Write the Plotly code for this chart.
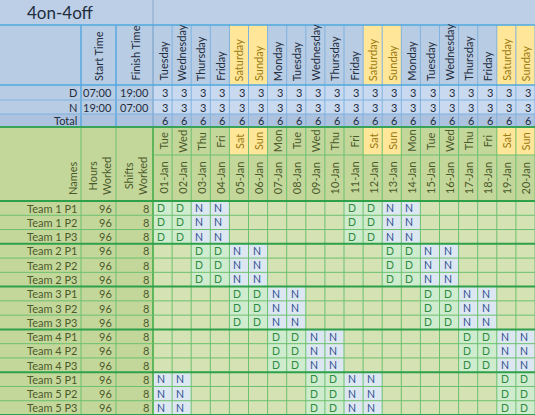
import plotly.graph_objects as go

title = "4on-4off"
days_full = ["Tuesday","Wednesday","Thursday","Friday","Saturday","Sunday","Monday","Tuesday","Wednesday","Thursday",
             "Friday","Saturday","Sunday","Monday","Tuesday","Wednesday","Thursday","Friday","Saturday","Sunday"]
days_short = ["Tue","Wed","Thu","Fri","Sat","Sun","Mon","Tue","Wed","Thu","Fri","Sat","Sun","Mon","Tue","Wed","Thu","Fri","Sat","Sun"]
dates = ["01-Jan","02-Jan","03-Jan","04-Jan","05-Jan","06-Jan","07-Jan","08-Jan","09-Jan","10-Jan",
         "11-Jan","12-Jan","13-Jan","14-Jan","15-Jan","16-Jan","17-Jan","18-Jan","19-Jan","20-Jan"]
shift_labels = ["D", "N"]
start_times = ["07:00", "19:00"]
finish_times = ["19:00", "07:00"]
d_counts = [3]*20
n_counts = [3]*20
totals = [6]*20
names = ["Team 1 P1","Team 1 P2","Team 1 P3","Team 2 P1","Team 2 P2","Team 2 P3","Team 3 P1","Team 3 P2","Team 3 P3",
         "Team 4 P1","Team 4 P2","Team 4 P3","Team 5 P1","Team 5 P2","Team 5 P3"]
hours = [96]*15
shifts = [8]*15
team1 = ["D","D","N","N","","","","","","","D","D","N","N","","","","","",""]
team2 = ["","","D","D","N","N","","","","","","","D","D","N","N","","","",""]
team3 = ["","","","","D","D","N","N","","","","","","","D","D","N","N","",""]
team4 = ["","","","","","","D","D","N","N","","","","","","","D","D","N","N"]
team5 = ["N","N","","","","","","","D","D","N","N","","","","","","","D","D"]
schedule = [team1]*3 + [team2]*3 + [team3]*3 + [team4]*3 + [team5]*3

FONT = "Lato"
X0, CW = 153.0, (535-153)/20
RY0, RH = 201.0, (415-201)/15
shapes, ann = [], []

def rect(x0, y0, x1, y1, fill, lc=None, lw=0):
    shapes.append(dict(type="rect", xref="x", yref="y", x0=x0, y0=y0, x1=x1, y1=y1, fillcolor=fill,
                       line=dict(color=lc or fill, width=lw), layer="below"))

def line(x0, y0, x1, y1, c, w=1):
    shapes.append(dict(type="line", xref="x", yref="y", x0=x0, y0=y0, x1=x1, y1=y1, line=dict(color=c, width=w)))

def txt(x, y, t, xa="center", ya="middle", size=11, color="#1f2d3d", angle=0):
    ann.append(dict(x=x, y=y, xref="x", yref="y", text=t, showarrow=False, xanchor=xa, yanchor=ya,
                    textangle=angle, font=dict(family=FONT, size=size, color=color)))

BLUE, BLUE_L, BLUE_T, YEL = "#b8cce4", "#c9daf0", "#adc2de", "#ffe699"
GREEN_D, GREEN_L = "#c4d79b", "#d4e2b4"
rect(0, 0, 535, 25, "#bccfe6")
rect(0, 25, 535, 85, BLUE)
rect(0, 85, 535, 114, BLUE)
rect(X0, 85, 535, 114, BLUE_L)
rect(0, 114, 535, 127, BLUE_T)
rect(0, 127, 535, 415, GREEN_D)
rect(X0, RY0, 535, 415, GREEN_L)
for i in range(20):
    if days_short[i] in ("Sat", "Sun"):
        rect(X0+i*CW, 25, X0+(i+1)*CW, 85, YEL)
        rect(X0+i*CW, 127, X0+(i+1)*CW, 155, YEL)
for r, row in enumerate(schedule):
    for i, v in enumerate(row):
        if v:
            rect(X0+i*CW, RY0+r*RH, X0+(i+1)*CW, RY0+(r+1)*RH, "#cfeccf" if v == "D" else "#dde7f2")
            txt(X0+i*CW+2, RY0+(r+0.5)*RH, v, xa="left", size=10.5, color="#2e8b3e" if v == "D" else "#2f4f8f")
    txt(79, RY0+(r+0.5)*RH, names[r], xa="right", color="#4b5a2a")
    txt(114, RY0+(r+0.5)*RH, str(hours[r]), xa="right", color="#4b5a2a")
    txt(151, RY0+(r+0.5)*RH, str(shifts[r]), xa="right", color="#4b5a2a")

for i in range(21):
    x = X0+i*CW
    line(x, 25, x, 127, "#7fb2e0", 1)
    line(x, 127, x, 415, "#6cc070", 1)
for x in (81, 116):
    line(x, 25, x, 127, "#5aa8e0", 1.5)
    line(x, 127, x, 415, "#6cc070", 1)
line(X0, 0, X0, 127, "#8aa8c8", 1)
line(X0, 127, X0, 415, "#4cae4c", 1.5)
for y in (25, 85):
    line(0, y, 535, y, "#4fa8dc", 1.5)
for y in (100, 114):
    line(0, y, 535, y, "#7fb2e0", 1)
line(0, 127, 535, 127, "#3aa35a", 2)
line(X0, 155, 535, 155, "#6cc070", 1)
for r in range(16):
    y = RY0+r*RH
    line(0, y, 535, y, "#2ea04a" if r % 3 == 0 else "#6cc070", 2 if r % 3 == 0 else 1)

txt(25, 12.5, title, xa="left", size=17, color="#1f2d3d")
txt(98, 83, "Start Time", ya="bottom", angle=-90)
txt(135, 83, "Finish Time", ya="bottom", angle=-90)
for i in range(20):
    cx = X0+(i+0.5)*CW
    wk = days_short[i] in ("Sat", "Sun")
    txt(cx, 83, days_full[i], ya="bottom", angle=-90, color="#9a7b10" if wk else "#1f2d3d")
    txt(X0+(i+1)*CW-2, 92.5, str(d_counts[i]), xa="right")
    txt(X0+(i+1)*CW-2, 107, str(n_counts[i]), xa="right")
    txt(X0+(i+1)*CW-2, 120.5, str(totals[i]), xa="right")
    txt(cx, 141, days_short[i], angle=-90, color="#9a7b10" if wk else "#4b5a2a")
    txt(cx, 178, dates[i], angle=-90, color="#4b5a2a")
for k, yy in enumerate((92.5, 107)):
    txt(79, yy, shift_labels[k], xa="right")
    txt(114, yy, start_times[k], xa="right")
    txt(151, yy, finish_times[k], xa="right")
txt(79, 120.5, "Total", xa="right")
txt(72, 197, "Names", ya="bottom", angle=-90, color="#4b5a2a")
txt(99, 197, "Hours<br>Worked", ya="bottom", angle=-90, color="#4b5a2a")
txt(135, 197, "Shifts<br>Worked", ya="bottom", angle=-90, color="#4b5a2a")

fig = go.Figure()
fig.add_trace(go.Scatter(x=[0, 535], y=[0, 415], mode="markers", marker=dict(opacity=0), hoverinfo="skip"))
fig.update_layout(width=535, height=415, margin=dict(l=0, r=0, t=0, b=0), showlegend=False,
                  plot_bgcolor="white", paper_bgcolor="white", shapes=shapes, annotations=ann,
                  xaxis=dict(range=[0, 535], visible=False, fixedrange=True),
                  yaxis=dict(range=[415, 0], visible=False, fixedrange=True))
fig.write_html("out.html", config={"displayModeBar": False},
               post_script="document.body.style.margin='0';document.body.style.overflow='hidden';")
